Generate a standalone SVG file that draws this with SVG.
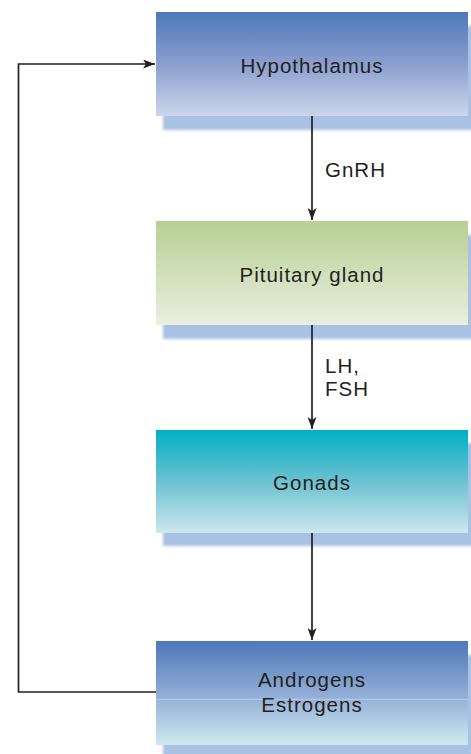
<svg xmlns="http://www.w3.org/2000/svg" width="471" height="754" viewBox="0 0 471 754">
<defs>
<linearGradient id="gBlue" x1="0" y1="0" x2="0" y2="1">
<stop offset="0" stop-color="#4d78ba"/>
<stop offset="0.5" stop-color="#8a9fcf"/>
<stop offset="1" stop-color="#cdd5ec"/>
</linearGradient>
<linearGradient id="gGreen" x1="0" y1="0" x2="0" y2="1">
<stop offset="0" stop-color="#b7d093"/>
<stop offset="1" stop-color="#e9efe0"/>
</linearGradient>
<linearGradient id="gTeal" x1="0" y1="0" x2="0" y2="1">
<stop offset="0" stop-color="#00b0c5"/>
<stop offset="0.5" stop-color="#6cc1d1"/>
<stop offset="1" stop-color="#cde7ee"/>
</linearGradient>
<linearGradient id="gBlue2" x1="0" y1="0" x2="0" y2="1">
<stop offset="0" stop-color="#4d78ba"/>
<stop offset="0.5" stop-color="#8eabd4"/>
<stop offset="1" stop-color="#cfe8ef"/>
</linearGradient>
<filter id="blur" x="-10%" y="-30%" width="120%" height="160%">
<feGaussianBlur stdDeviation="1.5"/>
</filter>
<marker id="arr" viewBox="0 0 12 9" refX="12" refY="4.5" markerWidth="12" markerHeight="9" markerUnits="userSpaceOnUse" orient="auto">
<path d="M0,0 L12,4.5 L0,9 L3,4.5 Z" fill="#231f20"/>
</marker>
</defs>
<style>
.shadow{fill:#a9c1e3;filter:url(#blur)}
.lbl{font-family:"Liberation Sans",Arial,sans-serif;font-size:20.5px;fill:#231f20;letter-spacing:1px}
.box-t{text-anchor:middle}
.con{stroke:#231f20;stroke-width:1.7;fill:none}
</style>
<g id="hypothalamus">
<rect class="shadow" x="163" y="26" width="312" height="104"/>
<rect x="156" y="12" width="312" height="104" fill="url(#gBlue)"/>
<text class="lbl box-t" x="312" y="73">Hypothalamus</text>
</g>
<g id="pituitary">
<rect class="shadow" x="163" y="235" width="312" height="104"/>
<rect x="156" y="221" width="312" height="104" fill="url(#gGreen)"/>
<text class="lbl box-t" x="312" y="282">Pituitary gland</text>
</g>
<g id="gonads">
<rect class="shadow" x="163" y="443" width="312" height="103"/>
<rect x="156" y="430" width="312" height="103" fill="url(#gTeal)"/>
<text class="lbl box-t" x="312" y="490">Gonads</text>
</g>
<g id="hormones">
<rect class="shadow" x="163" y="655" width="312" height="104"/>
<rect x="156" y="641" width="312" height="104" fill="url(#gBlue2)"/>
<line x1="156" y1="699.3" x2="468" y2="699.3" stroke="#b9cde9" stroke-width="1"/>
<text class="lbl box-t" x="312" y="687">Androgens</text>
<text class="lbl box-t" x="312" y="712">Estrogens</text>
</g>
<g id="connectors">
<path class="con" d="M312,116 V220" marker-end="url(#arr)"/>
<path class="con" d="M312,325 V429" marker-end="url(#arr)"/>
<path class="con" d="M312,533 V640" marker-end="url(#arr)"/>
<path class="con" d="M156,692 H18.5 V64 H155" marker-end="url(#arr)"/>
<text class="lbl" x="325" y="177">GnRH</text>
<text class="lbl" x="325" y="373">LH,</text>
<text class="lbl" x="325" y="396">FSH</text>
</g>
</svg>
